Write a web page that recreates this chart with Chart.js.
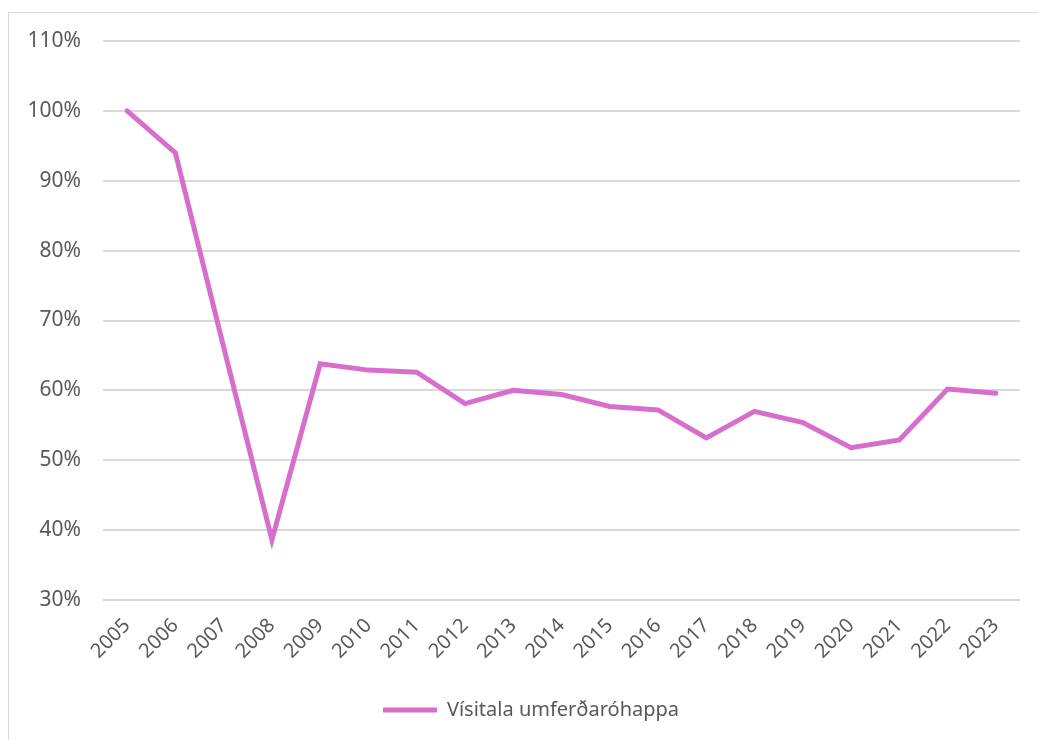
<!DOCTYPE html>
<html>
<head>
<meta charset="utf-8">
<script src="https://cdn.jsdelivr.net/npm/chart.js@4"></script>
<style>
  html, body { margin: 0; padding: 0; background: #fff; }
  #wrap { position: relative; width: 1038px; height: 740px; overflow: hidden; }
  #frame { position: absolute; left: 8px; top: 12px; width: 1100px; height: 800px; border: 1px solid #d9d9d9; box-sizing: border-box; }
  canvas { position: absolute; left: 0; top: 0; }
</style>
</head>
<body>
<div id="wrap">
  <div id="frame"></div>
  <canvas id="chart" width="1038" height="740"></canvas>
</div>
<script>
// data
const years = ["2005", "2006", "2007", "2008", "2009", "2010", "2011", "2012", "2013", "2014",
  "2015", "2016", "2017", "2018", "2019", "2020", "2021", "2022", "2023"];
const accidentIndex = [100, 94.0, 66.2, 38.6, 63.8, 62.9, 62.6, 58.1, 60.0, 59.4,
  57.7, 57.2, 53.2, 57.0, 55.4, 51.8, 52.9, 60.2, 59.6];
const seriesName = "Vísitala umferðaróhappa";
const yMin = 30, yMax = 110, yStep = 10;

const lineColor = "#d86ecc";
const textColor = "#595959";
const gridColor = "#d9d9d9";
const fontFamily = "'Noto Sans', 'Open Sans', sans-serif";

// legend in the original sits a little right of the canvas centre
const shiftLegend = {
  id: "shiftLegend",
  afterLayout(chart) {
    if (chart.legend) chart.legend.left = 42;
  }
};

const ctx = document.getElementById("chart").getContext("2d");
new Chart(ctx, {
  type: "line",
  data: {
    labels: years,
    datasets: [{
      label: seriesName,
      data: accidentIndex,
      borderColor: lineColor,
      backgroundColor: lineColor,
      borderWidth: 5,
      borderCapStyle: "round",
      borderJoinStyle: "miter",
      pointRadius: 0,
      tension: 0
    }]
  },
  plugins: [shiftLegend],
  options: {
    responsive: false,
    animation: false,
    layout: { padding: { left: 0, top: 41, right: 18, bottom: 10 } },
    plugins: {
      tooltip: { enabled: false },
      legend: {
        position: "bottom",
        labels: {
          usePointStyle: true,
          pointStyle: "line",
          pointStyleWidth: 54,
          color: textColor,
          padding: 10,
          font: { family: fontFamily, size: 20 }
        }
      }
    },
    scales: {
      x: {
        offset: true,
        grid: { display: false, drawTicks: false },
        border: { display: false },
        ticks: {
          color: textColor,
          minRotation: 45,
          maxRotation: 45,
          autoSkip: false,
          padding: 14,
          font: { family: fontFamily, size: 20 }
        },
        afterFit: scale => { scale.height = 90; }
      },
      y: {
        min: yMin,
        max: yMax,
        grid: { color: gridColor, lineWidth: 2, drawTicks: false },
        border: { display: false },
        ticks: {
          stepSize: yStep,
          color: textColor,
          padding: 22,
          font: { family: fontFamily, size: 21 },
          callback: v => v + "%"
        },
        afterFit: scale => { scale.width = 103; }
      }
    }
  }
});
</script>
</body>
</html>
